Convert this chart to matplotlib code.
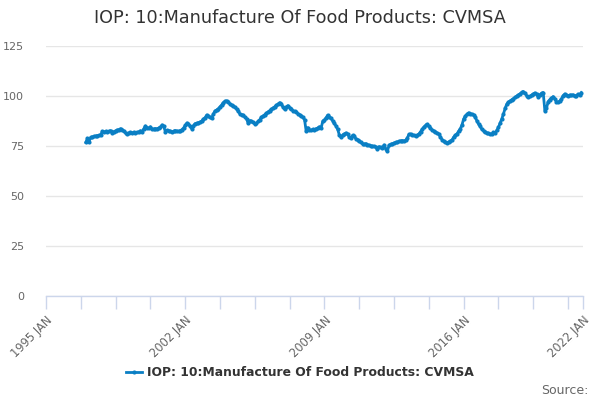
import matplotlib
matplotlib.use("Agg")
import matplotlib.pyplot as plt
import pandas as pd

title = "IOP: 10:Manufacture Of Food Products: CVMSA"

# monthly values, Jan 1997 .. Dec 2021
values = [
    76.8, 78.8, 77.2, 79.3, 79.5, 79.8, 80.0, 80.2, 80.3, 80.6, 82.3, 82.0,   # 1997
    82.3, 82.0, 82.3, 82.7, 81.7, 82.2, 82.6, 83.0, 83.2, 83.7, 83.0, 82.5,   # 1998
    81.4, 81.2, 81.6, 81.8, 81.5, 81.9, 81.6, 81.8, 82.0, 82.6, 82.2, 83.6,   # 1999
    85.0, 84.2, 83.8, 84.6, 83.4, 83.5, 83.7, 83.6, 84.0, 84.3, 85.5, 84.8,   # 2000
    82.2, 82.8, 82.7, 82.3, 82.0, 82.4, 82.7, 82.5, 82.3, 82.6, 83.2, 84.0,   # 2001
    85.3, 86.5, 86.0, 85.0, 83.6, 85.2, 86.2, 86.4, 86.6, 87.0, 87.5, 88.4,   # 2002
    89.2, 90.5, 90.0, 89.3, 88.8, 91.0, 92.5, 93.0, 93.6, 94.6, 95.5, 96.7,   # 2003
    97.4, 97.6, 97.1, 96.0, 95.3, 95.0, 94.4, 93.4, 92.5, 91.0, 90.7, 90.3,   # 2004
    89.5, 88.6, 86.4, 87.7, 87.3, 86.9, 86.0, 86.3, 87.3, 88.2, 89.4, 90.0,   # 2005
    90.7, 91.4, 92.0, 92.7, 93.3, 94.0, 94.6, 95.3, 95.9, 96.7, 96.0, 94.5,   # 2006
    93.3, 94.6, 95.2, 94.2, 93.6, 92.7, 92.3, 91.8, 91.2, 90.7, 90.0, 89.3,   # 2007
    88.2, 82.3, 84.2, 83.0, 82.8, 83.3, 83.2, 83.7, 84.0, 84.6, 84.0, 87.4,   # 2008
    88.0, 89.2, 90.4, 89.6, 88.8, 87.6, 86.3, 85.0, 83.3, 80.5, 79.4, 80.5,   # 2009
    81.0, 81.5, 81.0, 79.6, 78.8, 80.3, 79.9, 78.6, 78.2, 77.6, 76.8, 76.0,   # 2010
    75.9, 76.2, 75.6, 75.4, 75.1, 74.9, 74.8, 74.6, 73.4, 74.7, 74.3, 73.9,   # 2011
    75.5, 73.5, 72.3, 75.4, 75.8, 76.1, 76.5, 76.8, 76.9, 77.3, 77.6, 77.7,   # 2012
    77.6, 77.8, 78.9, 80.8, 81.0, 80.6, 80.3, 80.0, 80.4, 81.0, 82.2, 83.3,   # 2013
    84.5, 85.3, 85.9, 84.8, 84.0, 83.0, 82.5, 82.0, 81.5, 81.0, 79.5, 78.2,   # 2014
    77.4, 76.9, 76.7, 77.0, 77.4, 78.0, 79.4, 80.3, 81.1, 82.4, 83.6, 85.5,   # 2015
    88.5, 90.0, 90.8, 91.6, 91.2, 90.9, 90.6, 89.5, 87.5, 86.0, 84.8, 83.3,   # 2016
    82.6, 81.8, 81.5, 81.3, 81.1, 81.0, 81.8, 81.4, 82.8, 84.3, 86.5, 88.5,   # 2017
    91.0, 93.8, 95.8, 96.9, 97.5, 98.1, 98.7, 99.4, 100.0, 100.5, 101.1, 101.8,  # 2018
    102.2, 101.4, 100.2, 99.3, 99.8, 100.4, 101.0, 101.5, 100.8, 99.5, 100.6, 101.4,  # 2019
    101.7, 92.6, 93.8, 97.2, 98.2, 98.8, 99.7, 98.6, 97.2, 96.8, 97.5, 98.4,  # 2020
    100.2, 101.0, 100.6, 100.1, 100.5, 100.3, 100.6, 100.1, 100.2, 100.9, 100.6, 101.7,  # 2021
]
dates = pd.date_range("1997-01-01", periods=len(values), freq="MS")

y_ticks = [0, 25, 50, 75, 100, 125]
label_years = [1995, 2002, 2009, 2016, 2022]

# axis ticks every 21 months, plus the end of the axis
tick_dates = list(pd.date_range("1995-01-01", "2021-12-31", freq="21MS")) + [pd.Timestamp("2022-01-01")]
tick_labels = [f"{d.year} JAN" if (d.month == 1 and d.year in label_years) else "" for d in tick_dates]

line_color = "#0a7fc4"
axis_color = "#ccd6eb"
text_color = "#333333"
label_color = "#666666"

fig = plt.figure(figsize=(6, 4), dpi=100)
ax = fig.add_axes([46 / 600, 104 / 400, 537 / 600, 250 / 400])

ax.plot(dates, values, color=line_color, linewidth=2, marker="o", markersize=3,
        markeredgewidth=0, label=title, zorder=3)

ax.set_ylim(0, 125)
ax.set_yticks(y_ticks)
ax.set_xlim(pd.Timestamp("1995-01-01"), pd.Timestamp("2022-01-01"))
ax.set_xticks(tick_dates)
ax.set_xticklabels(tick_labels, rotation=45, ha="right", va="top", rotation_mode="anchor")

ax.grid(axis="y", color="#e6e6e6", linewidth=1)
ax.set_axisbelow(True)
for side in ["left", "right", "top"]:
    ax.spines[side].set_visible(False)
ax.spines["bottom"].set_color(axis_color)
ax.spines["bottom"].set_linewidth(1)

ax.tick_params(axis="y", length=0, pad=16, labelsize=8, labelcolor=label_color)
ax.tick_params(axis="x", length=9, width=1, color=axis_color, pad=4,
               labelsize=8.3, labelcolor=label_color)

fig.text(0.5, 1 - 18 / 400, title, ha="center", va="center", fontsize=12.7, color=text_color)

leg = fig.legend(loc="center", bbox_to_anchor=(0.5, 1 - 373 / 400), frameon=False,
                 handlelength=1.3, handletextpad=0.4, prop={"size": 8.9, "weight": "bold"})
for t in leg.get_texts():
    t.set_color(text_color)
for h in leg.get_lines():
    h.set_linewidth(2)
    h.set_markersize(3)

fig.text(588 / 600, 1 - 390 / 400, "Source:", ha="right", va="center", fontsize=9, color=label_color)

fig.savefig("out.png", dpi=100)
